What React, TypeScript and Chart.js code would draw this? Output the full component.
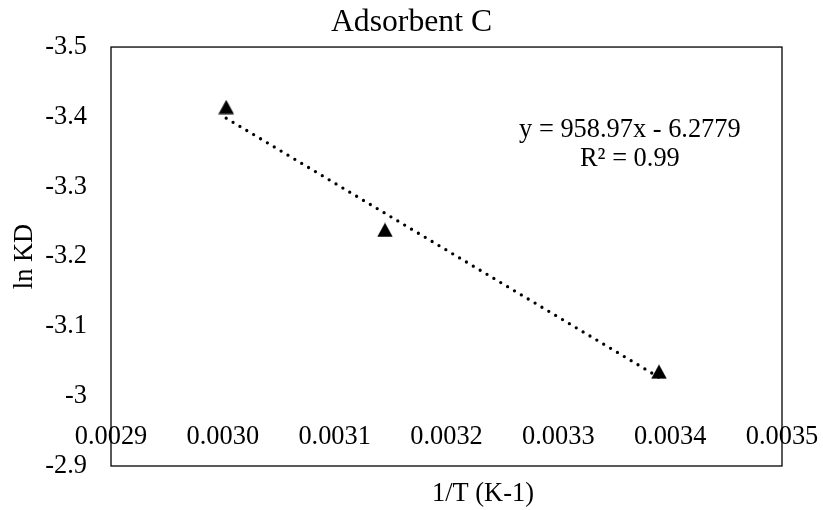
import React, { useEffect, useRef } from 'react';
import { Chart, registerables } from 'chart.js';

Chart.register(...registerables);

const chartTitle = 'Adsorbent C';
const xAxisTitle = '1/T (K-1)';
const yAxisTitle = 'ln KD';

const invTemperature = [0.003003, 0.003145, 0.00339];
const lnKD = [-3.414, -3.238, -3.035];

const trendSlope = 958.97;
const trendIntercept = -6.2779;
const equationLines = ['y = 958.97x - 6.2779', 'R² = 0.99'];

const xTickLabels = ['0.0029', '0.0030', '0.0031', '0.0032', '0.0033', '0.0034', '0.0035'];
const yTickLabels = ['-3.5', '-3.4', '-3.3', '-3.2', '-3.1', '-3', '-2.9'];

const xMin = 0.0029;
const xMax = 0.0035;
const xStep = 0.0001;
const yMin = -3.5;
const yMax = -2.9;
const yStep = 0.1;
const xAxisCrossing = -2.967;
const equationAnchor = { x: 0.003364, y: -3.371 };

const FONT_FAMILY = "'Liberation Serif', 'Times New Roman', serif";

function makeTriangle(): HTMLCanvasElement {
  const c = document.createElement('canvas');
  c.width = 16;
  c.height = 15;
  const g = c.getContext('2d')!;
  g.fillStyle = '#000';
  g.beginPath();
  g.moveTo(8, 0.3);
  g.lineTo(15.8, 14.5);
  g.lineTo(0.2, 14.5);
  g.closePath();
  g.fill();
  return c;
}

export default function App() {
  const canvasRef = useRef<HTMLCanvasElement | null>(null);

  useEffect(() => {
    if (!canvasRef.current) return;
    const triangle = makeTriangle();
    const tickFont = { family: FONT_FAMILY, size: 26.4 };

    const xs = [Math.min(...invTemperature), Math.max(...invTemperature)];
    const trendPoints = xs.map((x) => ({ x, y: trendSlope * x + trendIntercept }));

    const overlay = {
      id: 'overlay',
      afterDraw(chart: any) {
        const { ctx, chartArea } = chart;
        const xs = chart.scales.x;
        const ys = chart.scales.y;
        ctx.save();
        ctx.strokeStyle = '#000';
        ctx.lineWidth = 1.3;
        ctx.strokeRect(chartArea.left, chartArea.top, chartArea.right - chartArea.left, chartArea.bottom - chartArea.top);

        ctx.fillStyle = '#000';
        ctx.font = `26.4px ${FONT_FAMILY}`;
        ctx.textAlign = 'center';
        ctx.textBaseline = 'alphabetic';
        const ex = xs.getPixelForValue(equationAnchor.x);
        const ey = ys.getPixelForValue(equationAnchor.y);
        equationLines.forEach((line, i) => ctx.fillText(line, ex, ey + i * 29));

        ctx.fillText(xAxisTitle, 483, 501);
        ctx.restore();
      },
    };

    const chart = new Chart(canvasRef.current, {
      type: 'scatter',
      data: {
        datasets: [
          {
            type: 'line',
            label: 'trend',
            data: trendPoints,
            borderColor: '#000',
            borderWidth: 3.3,
            borderDash: [0, 8],
            borderCapStyle: 'round',
            pointRadius: 0,
            fill: false,
            order: 2,
          } as any,
          {
            label: 'ln KD',
            data: invTemperature.map((x, i) => ({ x, y: lnKD[i] })),
            pointStyle: triangle as any,
            pointRadius: 8,
            backgroundColor: '#000',
            borderColor: '#000',
            showLine: false,
            order: 1,
          },
        ],
      },
      options: {
        animation: false,
        responsive: false,
        layout: { padding: { left: 0, right: 0, top: 0, bottom: 44 } },
        plugins: {
          legend: { display: false },
          tooltip: { enabled: false },
          title: {
            display: true,
            text: chartTitle,
            color: '#000',
            font: { family: FONT_FAMILY, size: 31.7, weight: 'normal' },
            padding: { top: 4, bottom: 5 },
          },
        },
        scales: {
          x: {
            type: 'linear',
            min: xMin,
            max: xMax,
            position: { y: xAxisCrossing } as any,
            grid: { display: false, drawTicks: false },
            border: { display: false },
            ticks: {
              stepSize: xStep,
              padding: 2,
              maxRotation: 0,
              autoSkip: false,
              color: '#000',
              font: tickFont,
              callback: (v: any) => xTickLabels[Math.round((Number(v) - xMin) / xStep)] ?? '',
            },
          },
          y: {
            type: 'linear',
            reverse: true,
            min: yMin,
            max: yMax,
            grid: { display: false, drawTicks: false },
            border: { display: false },
            ticks: {
              stepSize: yStep,
              padding: 24,
              color: '#000',
              font: tickFont,
              callback: (v: any) => yTickLabels[Math.round((Number(v) - yMin) / yStep)] ?? '',
            },
            title: {
              display: true,
              text: yAxisTitle,
              color: '#000',
              font: tickFont,
              padding: { top: 9, bottom: 0 },
            },
            afterFit(scale: any) {
              scale.width = 111;
            },
          },
          ySpacer: {
            type: 'linear',
            position: 'right',
            display: true,
            min: yMin,
            max: yMax,
            grid: { display: false, drawTicks: false },
            border: { display: false },
            ticks: { display: false },
            afterFit(scale: any) {
              scale.width = 41;
            },
          },
        },
      },
      plugins: [overlay],
    });

    return () => chart.destroy();
  }, []);

  return (
    <div style={{ position: 'absolute', left: 0, top: 0, width: 823, height: 510, background: '#fff' }}>
      <canvas ref={canvasRef} width={823} height={510} />
    </div>
  );
}
